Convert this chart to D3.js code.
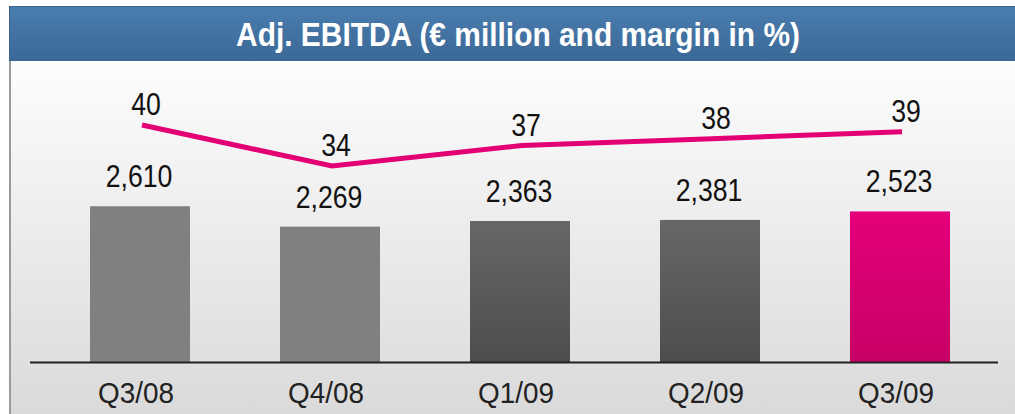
<!DOCTYPE html>
<html>
<head>
<meta charset="utf-8">
<script src="https://cdn.jsdelivr.net/npm/d3@7"></script>
<style>
  html, body { margin: 0; padding: 0; background: #fff; }
  svg { display: block; }
</style>
</head>
<body>
<div id="chart"></div>
<script>
const width = 1015;
const height = 414;
const chartTitle = "Adj. EBITDA (€ million and margin in %)";

const quarters = ["Q3/08", "Q4/08", "Q1/09", "Q2/09", "Q3/09"];
const ebitda = [2610, 2269, 2363, 2381, 2523];
const margin = [40, 34, 37, 38, 39];
const barStyle = ["light", "light", "dark", "dark", "magenta"];

// condensed look: Liberation Sans squeezed horizontally
const labelFont = "'Liberation Sans', Arial, sans-serif";
const squeeze = 0.86;
const magenta = "#e20074";
const baseY = 362;

const svg = d3.select("#chart")
    .append("svg")
        .attr("width", width)
        .attr("height", height);

const defs = svg.append("defs");

function vGradient(id, top, bottom) {
    const g = defs.append("linearGradient")
        .attr("id", id)
        .attr("x1", 0).attr("y1", 0)
        .attr("x2", 0).attr("y2", 1);
    g.append("stop").attr("offset", "0%").attr("stop-color", top);
    g.append("stop").attr("offset", "100%").attr("stop-color", bottom);
}
vGradient("bg", "#fdfdfd", "#dadada");
vGradient("head", "#4a7db0", "#3b6895");
vGradient("light", "#808080", "#808080");
vGradient("dark", "#676767", "#4d4d4d");
vGradient("magenta", "#e4007a", "#c70066");

// panel background + left border
svg.append("rect")
    .attr("x", 9).attr("y", 60)
    .attr("width", width - 9).attr("height", height - 60)
    .attr("fill", "url(#bg)");
svg.append("line")
    .attr("x1", 10).attr("x2", 10)
    .attr("y1", 60).attr("y2", height)
    .attr("stroke", "#9a9a9a")
    .attr("stroke-width", 2);

// title bar
svg.append("rect")
    .attr("x", 9).attr("y", 6)
    .attr("width", width - 9).attr("height", 55)
    .attr("fill", "url(#head)");
svg.append("line")
    .attr("x1", 9).attr("x2", width)
    .attr("y1", 6.5).attr("y2", 6.5)
    .attr("stroke", "#3a6189")
    .attr("stroke-width", 1);
svg.append("line")
    .attr("x1", 9.5).attr("x2", 9.5)
    .attr("y1", 6).attr("y2", 61)
    .attr("stroke", "#3a6189")
    .attr("stroke-width", 1);
svg.append("text")
    .attr("transform", "translate(518,46) scale(0.88,1)")
    .attr("text-anchor", "middle")
    .attr("font-family", labelFont)
    .attr("font-weight", "bold")
    .attr("font-size", 34)
    .attr("fill", "#fff")
    .text(chartTitle);

// scales
const x = d3.scaleBand()
    .domain(quarters)
    .range([45, 995])
    .paddingInner(90 / 190)
    .paddingOuter(45 / 190);

const y = d3.scaleLinear()
    .domain([0, 3000])
    .range([baseY, 183]);

const yMargin = d3.scaleLinear()
    .domain([34, 40])
    .range([166, 125]);

const cx = q => x(q) + x.bandwidth() / 2;
const fmt = d3.format(",");
const place = (px, py, s) => "translate(" + px + "," + py + ") scale(" + s + ",1)";

// bars
svg.append("g")
    .selectAll("rect")
    .data(quarters)
    .join("rect")
        .attr("x", d => x(d))
        .attr("y", (d, i) => y(ebitda[i]))
        .attr("width", x.bandwidth())
        .attr("height", (d, i) => baseY - y(ebitda[i]))
        .attr("fill", (d, i) => "url(#" + barStyle[i] + ")");

// baseline
svg.append("line")
    .attr("x1", 30).attr("x2", 998)
    .attr("y1", baseY + 0.5).attr("y2", baseY + 0.5)
    .attr("stroke", "#222")
    .attr("stroke-width", 2);

// bar value labels
svg.append("g")
    .selectAll("text")
    .data(quarters)
    .join("text")
        .attr("transform", (d, i) => place(cx(d) - 1, y(ebitda[i]) - 19, squeeze))
        .attr("text-anchor", "middle")
        .attr("font-family", labelFont)
        .attr("font-size", 31)
        .attr("fill", "#111")
        .text((d, i) => fmt(ebitda[i]));

// margin line
const line = d3.line()
    .x((d, i) => cx(quarters[i]) + 2)
    .y(d => yMargin(d));

svg.append("path")
    .datum(margin)
    .attr("d", line)
    .attr("fill", "none")
    .attr("stroke", magenta)
    .attr("stroke-width", 5);

svg.append("g")
    .selectAll("text")
    .data(margin)
    .join("text")
        .attr("transform", (d, i) => place(cx(quarters[i]) + 6, yMargin(d) - 10, squeeze))
        .attr("text-anchor", "middle")
        .attr("font-family", labelFont)
        .attr("font-size", 31)
        .attr("fill", "#111")
        .text(d => d);

// category axis labels
svg.append("g")
    .selectAll("text")
    .data(quarters)
    .join("text")
        .attr("transform", d => place(cx(d) - 4, 403, 0.93))
        .attr("text-anchor", "middle")
        .attr("font-family", labelFont)
        .attr("font-size", 30)
        .attr("fill", "#222")
        .text(d => d);
</script>
</body>
</html>
